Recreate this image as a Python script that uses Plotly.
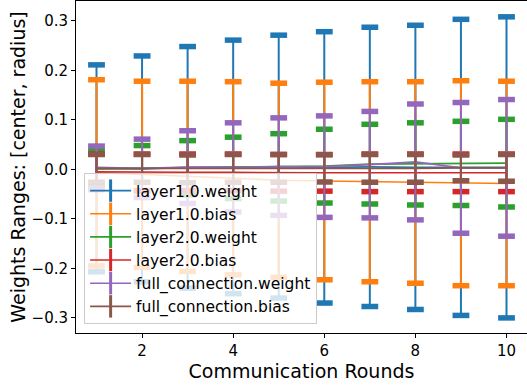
import plotly.graph_objects as go

rounds = [1, 2, 3, 4, 5, 6, 7, 8, 9, 10]

names = ["layer1.0.weight", "layer1.0.bias", "layer2.0.weight",
         "layer2.0.bias", "full_connection.weight", "full_connection.bias"]

l1w_center = [0.002, 0.001, 0.004, 0.005, 0.0055, 0.004, 0.005, 0.004, 0.004, 0.004]
l1w_radius = [0.209, 0.228, 0.244, 0.256, 0.2655, 0.274, 0.282, 0.287, 0.299, 0.304]

l1b_center = [-0.007, -0.010, -0.014, -0.018, -0.022, -0.0235, -0.025, -0.0265, -0.028, -0.0285]
l1b_radius = [0.188, 0.188, 0.192, 0.195, 0.196, 0.1995, 0.202, 0.2035, 0.207, 0.2065]

l2w_center = [0.001, 0.002, 0.003, 0.003, 0.004, 0.0065, 0.0105, 0.011, 0.012, 0.0125]
l2w_radius = [0.037, 0.046, 0.055, 0.062, 0.068, 0.0745, 0.0805, 0.083, 0.085, 0.0885]

l2b_center = [-0.005, -0.006, -0.006, -0.006, -0.007, -0.007, -0.007, -0.007, -0.007, -0.007]
l2b_radius = [0.036, 0.037, 0.037, 0.037, 0.037, 0.037, 0.038, 0.038, 0.038, 0.038]

fcw_center = [0.004, 0.002, 0.0045, 0.004, 0.0055, 0.0055, 0.0095, 0.015, 0.003, 0.003]
fcw_radius = [0.043, 0.059, 0.0735, 0.090, 0.0985, 0.1025, 0.1075, 0.117, 0.132, 0.138]

fcb_center = [0.002, 0.002, 0.001, 0.002, 0.002, 0.002, 0.002, 0.002, 0.003, 0.003]
fcb_radius = [0.028, 0.028, 0.028, 0.028, 0.028, 0.0275, 0.028, 0.028, 0.026, 0.027]

y_ticks = [-0.3, -0.2, -0.1, 0.0, 0.1, 0.2, 0.3]
x_ticks = [2, 4, 6, 8, 10]

colors = ["#1f77b4", "#ff7f0e", "#2ca02c", "#d62728", "#9467bd", "#8c564b"]
centers = [l1w_center, l1b_center, l2w_center, l2b_center, fcw_center, fcb_center]
radii = [l1w_radius, l1b_radius, l2w_radius, l2b_radius, fcw_radius, fcb_radius]

fig = go.Figure()
for name, col, cen, rad in zip(names, colors, centers, radii):
    fig.add_trace(go.Scatter(
        x=rounds, y=cen, name=name, mode="lines",
        line=dict(color=col, width=1.6),
        error_y=dict(type="data", array=rad, symmetric=True,
                     color=col, thickness=2, width=0),
        showlegend=False,
    ))
    upper = [c + r for c, r in zip(cen, rad)]
    lower = [c - r for c, r in zip(cen, rad)]
    fig.add_trace(go.Scatter(
        x=rounds + rounds, y=upper + lower, mode="markers",
        marker=dict(symbol="line-ew", size=12, color=col,
                    line=dict(color=col, width=5.5)),
        showlegend=False, hoverinfo="skip",
    ))

# legend-only entries (no data drawn), imitating the errorbar legend glyph
for name, col in zip(names, colors):
    fig.add_trace(go.Scatter(
        x=[None], y=[None], name=name, mode="lines+markers",
        line=dict(color=col, width=1.6),
        marker=dict(symbol="line-ns", size=16, color=col,
                    line=dict(color=col, width=3)),
    ))

font = "DejaVu Sans"
fig.update_layout(
    width=527, height=385,
    margin=dict(l=76, r=0, t=1, b=52, autoexpand=False),
    paper_bgcolor="white", plot_bgcolor="white",
    font=dict(family=font, size=15, color="black"),
    xaxis=dict(range=[0.55, 10.45], tickvals=x_ticks, showgrid=False, zeroline=False,
               showline=True, linecolor="black", linewidth=1, mirror=True,
               ticks="outside", ticklen=4, tickcolor="black", automargin=False,
               title=dict(text="Communication Rounds", font=dict(size=19), standoff=4),
               tickfont=dict(size=15)),
    yaxis=dict(range=[-0.3305, 0.340], tickvals=y_ticks, tickformat=".1f",
               showgrid=False, zeroline=False,
               showline=True, linecolor="black", linewidth=1, mirror=True,
               ticks="outside", ticklen=4, tickcolor="black", automargin=False,
               title=dict(text="Weights Ranges: [center, radius]", font=dict(size=19), standoff=0),
               tickfont=dict(size=15)),
    legend=dict(x=0.018, y=0.027, xanchor="left", yanchor="bottom",
                bgcolor="rgba(255,255,255,0.8)", bordercolor="#cccccc", borderwidth=1,
                font=dict(family=font, size=15.5), itemwidth=41, tracegroupgap=0),
    showlegend=True,
)

fig.write_html("out.html", config={"displayModeBar": False},
               post_script="document.body.style.margin='0';")
